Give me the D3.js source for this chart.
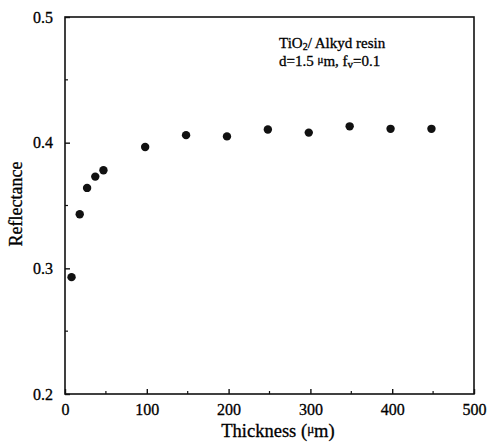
<!DOCTYPE html>
<html lang="en">
<head>
<meta charset="utf-8">
<title>Reflectance vs thickness</title>
<script src="https://d3js.org/d3.v7.min.js"></script>
<style>
  body { margin: 0; background: #fff; }
  svg { display: block; }
  .tick text, .lbl { font-family: "Liberation Serif", "DejaVu Serif", serif; fill: #000; stroke: #000; stroke-width: 0.3; }
</style>
</head>
<body>
<svg width="491" height="445"></svg>
<script>
// values
const thickness = [8, 18, 27, 37, 47, 98, 148, 198, 248, 298, 348, 398, 448];
const reflectance = [0.293, 0.343, 0.364, 0.373, 0.378, 0.3965, 0.406, 0.405, 0.4105, 0.408, 0.413, 0.411, 0.411];
const xTicks = [0, 100, 200, 300, 400, 500];
const yTicks = [0.2, 0.3, 0.4, 0.5];

const svg = d3.select("svg");
const mLeft = 65, mRight = 474, mTop = 17, mBottom = 394;

const x = d3.scaleLinear().domain([0, 500]).range([mLeft, mRight]);
const y = d3.scaleLinear().domain([0.2, 0.5]).range([mBottom, mTop]);

// frame
svg.append("rect")
  .attr("x", mLeft).attr("y", mTop)
  .attr("width", mRight - mLeft).attr("height", mBottom - mTop)
  .attr("fill", "none").attr("stroke", "#111").attr("stroke-width", 1.6);

// minor ticks
const minorX = d3.range(50, 500, 100);
const minorY = [0.25, 0.35, 0.45];

svg.selectAll(".mx").data(minorX).enter().append("line")
  .attr("x1", d => x(d)).attr("x2", d => x(d))
  .attr("y1", mBottom).attr("y2", mBottom - 3)
  .attr("stroke", "#111").attr("stroke-width", 1.2);
svg.selectAll(".my").data(minorY).enter().append("line")
  .attr("y1", d => y(d)).attr("y2", d => y(d))
  .attr("x1", mLeft).attr("x2", mLeft + 3)
  .attr("stroke", "#111").attr("stroke-width", 1.2);

// axes with inward ticks
const xAxis = svg.append("g")
  .attr("transform", "translate(0," + mBottom + ")")
  .call(d3.axisBottom(x).tickValues(xTicks).tickSize(-5).tickPadding(10).tickFormat(d3.format("d")));
const yAxis = svg.append("g")
  .attr("transform", "translate(" + mLeft + ",0)")
  .call(d3.axisLeft(y).tickValues(yTicks).tickSize(-5).tickPadding(12).tickFormat(d3.format(".1f")));

[xAxis, yAxis].forEach(g => {
  g.select(".domain").remove();
  g.selectAll(".tick line").attr("stroke", "#111").attr("stroke-width", 1.4);
  g.selectAll(".tick text").attr("font-size", 16);
});

// points
svg.selectAll("circle").data(thickness).enter().append("circle")
  .attr("cx", d => x(d))
  .attr("cy", (d, i) => y(reflectance[i]))
  .attr("r", 4.2)
  .attr("fill", "#111");

// axis titles
const xt = svg.append("text").attr("class", "lbl")
  .attr("x", 278).attr("y", 437)
  .attr("text-anchor", "middle").attr("font-size", 18.5);
xt.append("tspan").text("Thickness (");
xt.append("tspan").attr("font-size", 13).attr("dy", -4).text("\u03bc");
xt.append("tspan").attr("dy", 4).text("m)");

svg.append("text").attr("class", "lbl")
  .attr("transform", "translate(22,204) rotate(-90)")
  .attr("text-anchor", "middle").attr("font-size", 18)
  .text("Reflectance");

// annotation
const a1 = svg.append("text").attr("class", "lbl")
  .attr("x", 279).attr("y", 48).attr("font-size", 15);
a1.append("tspan").text("TiO");
a1.append("tspan").attr("font-size", 10).attr("dy", 2).text("2");
a1.append("tspan").attr("dy", -2).text("/ Alkyd resin");

const a2 = svg.append("text").attr("class", "lbl")
  .attr("x", 279).attr("y", 66).attr("font-size", 15);
a2.append("tspan").text("d=1.5 ");
a2.append("tspan").attr("font-size", 11).attr("dy", -3).text("\u03bc");
a2.append("tspan").attr("dy", 3).text("m, f");
a2.append("tspan").attr("font-size", 11).attr("dy", 2).text("v");
a2.append("tspan").attr("dy", -2).text("=0.1");
</script>
</body>
</html>
